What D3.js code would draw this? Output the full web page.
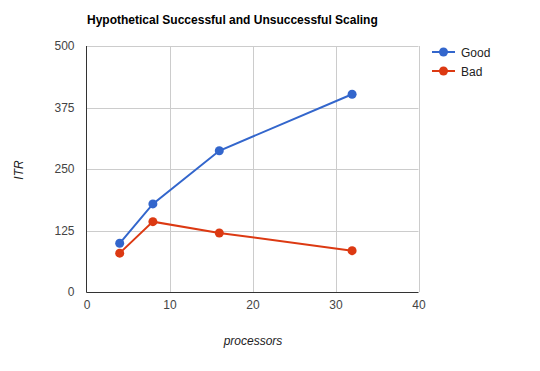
<!DOCTYPE html>
<html><head><meta charset="utf-8">
<script src="https://cdn.jsdelivr.net/npm/d3@7"></script>
<style>body{margin:0;background:#fff}svg{display:block;font-family:Arial,"Liberation Sans",sans-serif}</style>
</head><body><svg id="c" width="540" height="371"></svg>
<script>
const processors = [4, 8, 16, 32];
const goodValues = [99, 179, 287, 402];
const badValues = [79, 143, 120, 84];
const seriesNames = ["Good", "Bad"];
const seriesColors = ["#3366cc", "#dc3912"];
const xTicks = [0, 10, 20, 30, 40];
const yTicks = [0, 125, 250, 375, 500];

const svg = d3.select("#c");
const m = {l: 86.5, r: 418.5, t: 46, b: 292};
const x = d3.scaleLinear().domain([0, 40]).range([m.l, m.r]);
const y = d3.scaleLinear().domain([0, 500]).range([m.b, m.t]);

svg.append("rect").attr("width",540).attr("height",371).attr("fill","#fff");

// gridlines
svg.append("g").selectAll("line").data(yTicks.filter(d=>d>0)).join("line")
  .attr("x1", m.l).attr("x2", m.r).attr("y1", d=>Math.round(y(d))+0.5).attr("y2", d=>Math.round(y(d))+0.5)
  .attr("stroke","#cccccc");
svg.append("g").selectAll("line").data(xTicks.filter(d=>d>0)).join("line")
  .attr("y1", m.t).attr("y2", m.b).attr("x1", d=>Math.round(x(d))+0.5).attr("x2", d=>Math.round(x(d))+0.5)
  .attr("stroke","#cccccc");

// axes baselines
svg.append("line").attr("x1", m.l).attr("x2", m.l).attr("y1", m.t).attr("y2", m.b+0.5).attr("stroke","#333").attr("stroke-width",1);
svg.append("line").attr("x1", m.l).attr("x2", m.r).attr("y1", m.b+0.5).attr("y2", m.b+0.5).attr("stroke","#333").attr("stroke-width",1);

// tick labels via axes
const yAxis = d3.axisLeft(y).tickValues(yTicks).tickSize(0).tickPadding(12);
const gy = svg.append("g").attr("transform",`translate(${m.l},0)`).call(yAxis);
gy.select(".domain").remove();
gy.selectAll("text").attr("fill","#444").style("font-size","12px").style("font-family","Arial, 'Liberation Sans', sans-serif");
const xAxis = d3.axisBottom(x).tickValues(xTicks).tickSize(0).tickPadding(8);
const gx = svg.append("g").attr("transform",`translate(0,${m.b})`).call(xAxis);
gx.select(".domain").remove();
gx.selectAll("text").attr("fill","#444").style("font-size","12px").style("font-family","Arial, 'Liberation Sans', sans-serif");

// series
const series = [goodValues, badValues];
const line = d3.line().x((d,i)=>x(processors[i])).y(d=>y(d));
series.forEach((vals, si) => {
  svg.append("path").datum(vals).attr("d", line).attr("fill","none")
    .attr("stroke", seriesColors[si]).attr("stroke-width", 2);
  svg.append("g").selectAll("circle").data(vals).join("circle")
    .attr("cx", (d,i)=>x(processors[i])).attr("cy", d=>y(d)).attr("r", 4.5)
    .attr("fill", seriesColors[si]);
});

// title
svg.append("text").attr("x", 87).attr("y", 24).text("Hypothetical Successful and Unsuccessful Scaling")
  .attr("font-weight","bold").attr("font-size","12px").attr("fill","#000");

// axis titles
svg.append("text").attr("x", 253).attr("y", 345).attr("text-anchor","middle")
  .attr("font-style","italic").attr("font-size","12px").attr("fill","#222").text("processors");
svg.append("text").attr("transform","translate(23,170) rotate(-90)").attr("text-anchor","middle")
  .attr("font-style","italic").attr("font-size","12px").attr("fill","#222").text("ITR");

// legend
seriesNames.forEach((n, i) => {
  const ly = 52 + i*19;
  svg.append("line").attr("x1",432).attr("x2",455).attr("y1",ly).attr("y2",ly)
    .attr("stroke",seriesColors[i]).attr("stroke-width",2);
  svg.append("circle").attr("cx",443.5).attr("cy",ly).attr("r",4.5).attr("fill",seriesColors[i]);
  svg.append("text").attr("x",461).attr("y",ly+4.5).attr("font-size","12px").attr("fill","#222").text(n);
});
</script></body></html>
